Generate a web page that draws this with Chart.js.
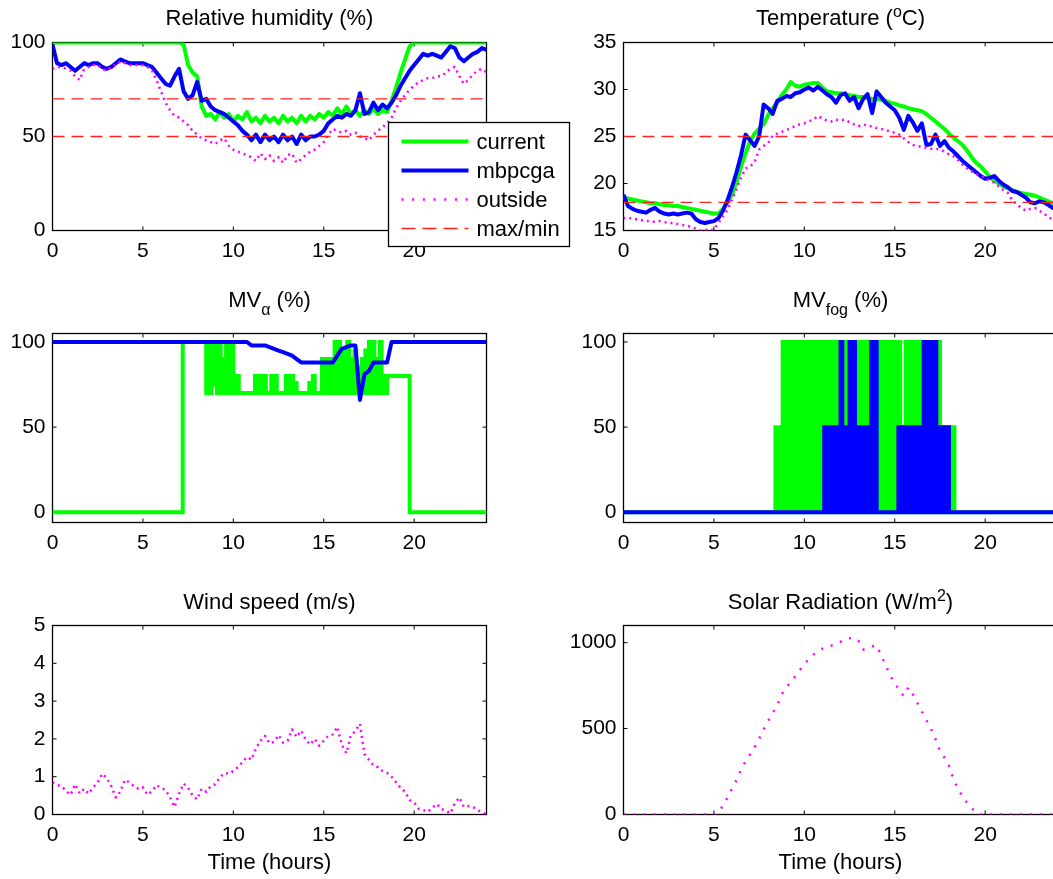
<!DOCTYPE html>
<html>
<head>
<meta charset="utf-8">
<script src="https://cdn.jsdelivr.net/npm/chart.js@4.4.0/dist/chart.umd.min.js"></script>
<style>
html, body { margin: 0; padding: 0; background: #fff; width: 1053px; height: 879px; overflow: hidden; }
canvas { position: absolute; left: 0; top: 0; }
</style>
</head>
<body>
<canvas id="rh" width="1080" height="879"></canvas>
<canvas id="temp" width="1080" height="879"></canvas>
<canvas id="alpha" width="1080" height="879"></canvas>
<canvas id="fog" width="1080" height="879"></canvas>
<canvas id="wind" width="1080" height="879"></canvas>
<canvas id="solar" width="1080" height="879"></canvas>
<script>
// ---------------- DATA ----------------
const seriesNames = ['current', 'mbpcga', 'outside', 'max/min'];
const xTickLabels = [0, 5, 10, 15, 20];
const rhYTicks = [0, 50, 100];
const tempYTicks = [15, 20, 25, 30, 35];
const mvYTicks = [0, 50, 100];
const windYTicks = [0, 1, 2, 3, 4, 5];
const solarYTicks = [0, 500, 1000];
// sampling grid: every 15 minutes over 24 h
const hours = Array.from({length: 97}, (_, i) => i * 0.25);

const rhCurrent = [100,100,100,100,100,100,100,100,100,100,100,100,100,100,100,100,100,100,100,100,100,100,100,100,100,100,100,100,100,
  99,88,84,82,66,61,62,59,63,60,62,58,61,59,63,58,60,57,61,58,60,57,61,58,60,57,61,58,61,59,62,60,63,61,65,62,66,62,64,61,64,62,65,62,64,63,69,76,84,91,98,
  100,100,100,100,100,100,100,100,100,100,100,100,100,100,100,100,100];
const rhMbpcga = [99,89,88,89,87,85,87,89,88,89,89,87,86,87,89,91,90,89,89,89,89,88,87,84,81,78,77,82,86,74,70,72,79,69,70,66,64,63,62,60,58,56,53,51,48,51,47,51,48,50,47,51,48,50,46,51,48,50,50,51,53,57,59,61,60,62,61,64,73,62,63,68,64,67,65,68,72,77,81,85,88,91,94,93,94,93,92,95,98,97,92,90,92,94,95,97,96];
const rhOutside = [86,87,87,86, 85,82,80,86, 87,88,88,86, 85,87,88,90, 89,88,88,88, 88,87,85,80, 74,68,64,61, 60,58,56,53, 51,49,48,47, 46,48,49,45, 43,42,41,40, 39,37,41,38, 40,37,39,36, 40,41,36,38, 40,42,43,45, 47,51,54,53, 52,53,51,52, 50,49,48,51, 53,55,57,60, 65,69,72,75, 77,79,80,81, 81,82,82,84, 86,87,82,78, 80,83,85,86, 84];
const rhLimits = [70, 50];

const tempCurrent = [18.5,18.4,18.3,18.2, 18.1,18.0,17.9,17.9, 17.8,17.7,17.7,17.6, 17.6,17.5,17.4,17.3, 17.2,17.1,17.0,16.9, 16.8,16.8,17.3,18.0, 18.8,20.2,21.8,23.2, 24.5,25.3,25.8,26.3, 27.3,28.0,28.6,29.4, 30.0,30.8,30.4,30.3, 30.5,30.6,30.7,30.7, 30.2,29.8,29.7,29.6, 29.6,29.5,29.4,29.3, 29.2,29.2,29.1,29.0, 29.0,28.9,28.8,28.6, 28.5,28.3,28.2,28.0, 27.9,27.8,27.7,27.4, 27.0,26.6,26.2,25.8, 25.3,24.9,24.5,24.1, 23.5,22.8,22.2,21.8, 21.3,20.7,20.3,20.0, 19.7,19.5,19.3,19.1, 19.0,18.9,18.8,18.7, 18.5,18.3,18.1,17.9, 17.8];
const tempMbpcga = [18.8,17.6,17.3,17.1, 17.0,16.9,17.2,17.4, 17.0,16.8,16.7,16.8, 16.7,16.8,16.9,16.8, 16.2,15.9,15.8,15.9, 16.0,16.3,17.1,18.2, 19.6,21.2,23.0,25.2, 24.6,24.0,25.0,28.4, 28.0,27.4,28.8,29.0, 29.3,29.2,29.6,29.7, 30.0,30.2,29.9,30.3, 29.9,29.5,29.2,28.6, 29.4,29.6,28.8,29.2, 28.0,29.0,29.5,27.5, 29.8,29.2,28.6,28.2, 27.8,27.0,25.7,27.2, 26.5,25.6,26.4,24.1, 24.2,25.2,24.0,24.5, 23.8,23.4,22.9,22.4, 22.0,21.6,21.2,20.8, 20.5,20.6,20.8,20.3, 19.9,19.6,19.2,19.1, 18.8,18.5,18.0,17.9, 18.1,18.0,17.7,17.4, 17.3];
const tempOutside = [16.3,16.4,16.2,16.2, 16.1,16.0,16.0,15.9, 16.0,15.9,15.8,15.8, 15.7,15.6,15.5,15.4, 15.2,15.0,15.1,15.0, 15.1,15.8,16.5,17.2, 18.3,19.4,20.6,21.6, 21.8,22.3,23.6,24.0, 24.3,25.1,25.3,25.5, 25.7,25.9,26.1,26.3, 26.4,26.6,26.8,27.2, 26.9,26.7,26.6,26.8, 26.7,26.8,26.5,26.3, 26.1,26.3,26.1,26.1, 25.9,25.8,25.7,25.5, 25.4,25.2,24.8,24.4, 24.1,24.0,23.9,23.8, 23.7,23.7,23.6,23.4, 23.1,22.9,22.5,22.0, 21.6,21.3,21.0,20.8, 20.6,20.3,20.1,19.7, 19.3,19.0,18.2,17.8, 17.4,17.1,17.3,17.4, 17.1,16.8,16.4,16.2, 15.9];
const tempLimits = [25, 18];

// MV alpha, mbpcga (15-min grid)
const alphaMbpcga = [100,100,100,100,100,100,100,100,100,100,100,100,100,100,100,100,100,100,100,100,100,100,100,100,100,100,100,100,100,100,100,100,100,100,100,100,100,100,100,100,100,100,100,100,
  98,98,98,98,97,96,95,94,93,92,90,88,88,88,88,88,88,88,88,92,96,97,98,98,66,81,83,88,88,88,88,100,
  100,100,100,100,100,100,100,100,100,100,100,100,100,100,100,100,100,100,100,100,100];
// MV alpha, current: sparse start/end points and a 6-minute grid over 8.4-18.4 h
const alphaCurHeadTime = [0, 7.2];
const alphaCurHead = [0, 100];
const alphaCurDenseStart = 8.4;
const alphaCurDense = [100,70,100,70,100,75,100,70,100,70,90,70,100,70,85,100,70,70,80,70,70,70,70,70,70,70,70,70,80,70,70,80,70,80,70,70,70,80,70,80,70,70,70,70,70,80,70,70,80,70,76,70,70,70,70,70,70,70,76,70,80,70,70,70,70,90,70,90,70,90,70,90,100,70,100,70,95,70,90,100,70,90,70,95,70,85,70,90,70,95,70,100,70,100,70,90,70,100,70,80,70];
const alphaCurTailTime = [18.5, 19.75, 24];
const alphaCurTail = [80, 0, 0];

// MV fog (6-minute grid inside the active windows, 0 elsewhere)
const fogCurStart = 8.3;
const fogCurrent = [0,50,0,50,0,100,0,100,0,100,0,100,0,100,0,100,0,100,0,100,0,100,0,100,0,100,0,100,0,100,0,100,0,100,0,100,0,100,0,100,0,100,0,100,0,100,0,100,0,100,0,100,0,100,0,100,0,100,0,100,0,100,0,100,0,100,0,100,0,100,0,50,0,100,0,100,0,100,0,100,0,100,0,100,0,100,0,100,0,100,0,100,0,50,0,50,0,50,0,50,0];
const fogMbStart = 11.0;
const fogMbpcga = [0,50,0,50,0,50,0,50,0,50,100,0,50,0,50,100,0,100,0,50,0,50,0,50,0,50,0,100,0,100,0,0,0,0,0,0,0,0,0,0,0,0,50,0,50,0,50,0,50,0,50,0,50,0,50,0,100,0,100,0,100,0,100,0,50,0,50,0,50,50,0];

const windOutside = [0.85,0.78,0.75,0.62, 0.52,0.8,0.56,0.68, 0.55,0.72,0.85,1.08, 0.96,0.75,0.45,0.6, 0.92,0.85,0.75,0.68, 0.72,0.52,0.62,0.78, 0.7,0.65,0.45,0.2, 0.55,0.82,0.7,0.5, 0.4,0.68,0.6,0.75, 0.8,0.98,1.1,1.08, 1.15,1.25,1.38,1.52, 1.45,1.75,1.95,2.08, 1.88,1.92,2.1,1.9, 1.95,2.25,2.05,2.22, 1.98,1.85,2.0,1.82, 1.95,2.08,2.12,2.32, 1.84,1.62,2.1,2.2, 2.4,1.6,1.45,1.3, 1.25,1.15,1.1,1.0, 0.85,0.7,0.6,0.38, 0.32,0.15,0.12,0.07, 0.18,0.28,0.15,0.1, 0.03,0.3,0.45,0.2, 0.22,0.2,0.12,0.05, 0.01];
const solarOutside = [0,0,0,0,0,0,0,0,0,0,0,0,0,0,0,0,0,0,0,0,0,
  15,50,100,150,200,262,310,350,390,440,495,545,590,636,700,740,770,805,840,875,905,930,950,965,978,983,990,1005,1020,1025,1030,1010,960,968,978,985,925,870,805,770,720,690,740,700,650,600,550,500,440,370,330,285,205,150,105,68,38,12,
  0,0,0,0,0,0,0,0,0,0,0,0,0,0,0,0,0,0];

// ---------------- RENDERING ----------------
const FAM = "'Liberation Sans', Arial, Helvetica, sans-serif";
const CW = 1080, CH = 879, XH = 30, TICK = 4;
const GREEN = '#00ff00', BLUE = '#0000ff', MAGENTA = '#ff00ff', RED = '#ff2020';
Chart.defaults.font.family = FAM;
Chart.defaults.color = '#000';

function grid(start, n) { return Array.from({length: n}, (_, i) => +(start + i * 0.1).toFixed(2)); }
function pts(xs, ys) { return ys.map((y, i) => ({x: xs[i], y: y})); }
function hline(v) { return [{x: 0, y: v}, {x: 24, y: v}]; }

const STY = {
  current: {borderColor: GREEN, borderWidth: 4, order: 4},
  mbpcga: {borderColor: BLUE, borderWidth: 4, order: 3},
  outside: {borderColor: MAGENTA, borderWidth: 2.5, borderDash: [2, 4], order: 2, legendDash: [2, 8.7]},
  limit: {borderColor: RED, borderWidth: 1.3, borderDash: [12, 7], order: 1, legendDash: [14, 7]}
};
function ds(label, data, style, extra) {
  return Object.assign({label: label, data: data, pointRadius: 0, tension: 0, fill: false,
    borderJoinStyle: 'round', borderCapStyle: 'butt'}, style, extra || {});
}

function drawParts(ctx, parts, cx, baseline) {
  let w = 0;
  parts.forEach(p => { ctx.font = (p.s ? 16 : 22) + 'px ' + FAM; p.w = ctx.measureText(p.t).width; w += p.w; });
  let x = cx - w / 2;
  ctx.textAlign = 'left'; ctx.textBaseline = 'alphabetic'; ctx.fillStyle = '#000';
  parts.forEach(p => {
    ctx.font = (p.s ? 16 : 22) + 'px ' + FAM;
    const dy = p.s === 'sup' ? -8 : (p.s === 'sub' ? 8 : 0);
    ctx.fillText(p.t, x, baseline + dy);
    x += p.w;
  });
}

function makePlugin(cfg) {
  return {
    id: 'frame',
    beforeDatasetsDraw(chart) {
      const ctx = chart.ctx, a = chart.chartArea, sx = chart.scales.x, sy = chart.scales.y;
      ctx.save();
      ctx.strokeStyle = '#000';
      ctx.lineWidth = 1.3;
      ctx.strokeRect(a.left, a.top, a.right - a.left, a.bottom - a.top);
      ctx.lineWidth = 1;
      ctx.beginPath();
      sx.ticks.forEach(t => {
        const px = sx.getPixelForValue(t.value);
        ctx.moveTo(px, a.bottom); ctx.lineTo(px, a.bottom - TICK);
        ctx.moveTo(px, a.top); ctx.lineTo(px, a.top + TICK);
      });
      sy.ticks.forEach(t => {
        const py = sy.getPixelForValue(t.value);
        ctx.moveTo(a.left, py); ctx.lineTo(a.left + TICK, py);
        ctx.moveTo(a.right, py); ctx.lineTo(a.right - TICK, py);
      });
      ctx.stroke();
      ctx.restore();
    },
    afterDraw(chart) {
      const ctx = chart.ctx, a = chart.chartArea;
      ctx.save();
      drawParts(ctx, cfg.title, (a.left + a.right) / 2, a.top - cfg.titleGap);
      if (cfg.xTitle) drawParts(ctx, [{t: cfg.xTitle}], (a.left + a.right) / 2, a.bottom + 54);
      if (cfg.legend) {
        const L = cfg.legend;
        ctx.fillStyle = '#fff';
        ctx.fillRect(L.x, L.y, L.w, L.h);
        ctx.strokeStyle = '#000'; ctx.lineWidth = 1.3;
        ctx.strokeRect(L.x, L.y, L.w, L.h);
        const items = chart.data.datasets.filter(d => d.inLegend);
        items.forEach((d, i) => {
          const y = L.rows[i];
          ctx.strokeStyle = d.borderColor; ctx.lineWidth = d.borderWidth;
          ctx.setLineDash(d.legendDash || []);
          ctx.beginPath(); ctx.moveTo(L.lineX0, y); ctx.lineTo(L.lineX1, y); ctx.stroke();
          ctx.setLineDash([]);
          ctx.fillStyle = '#000'; ctx.font = '22px ' + FAM;
          ctx.textAlign = 'left'; ctx.textBaseline = 'alphabetic';
          ctx.fillText(d.label, L.textX, y + 7);
        });
      }
      ctx.restore();
    }
  };
}

function panel(id, area, yr, datasets, cfg) {
  const YW = area.l - 2;
  new Chart(document.getElementById(id), {
    type: 'line',
    data: {datasets: datasets},
    options: {
      responsive: false, maintainAspectRatio: false, animation: false, devicePixelRatio: 1, events: [],
      layout: {padding: {left: area.l - YW, right: CW - area.r, top: area.t, bottom: CH - area.b - XH}},
      plugins: {legend: {display: false}, tooltip: {enabled: false}, title: {display: false}},
      scales: {
        x: {type: 'linear', min: 0, max: 24,
            afterFit: s => { s.height = XH; },
            afterBuildTicks: s => { s.ticks = xTickLabels.map(v => ({value: v})); },
            grid: {display: false, drawTicks: false}, border: {display: false},
            ticks: {padding: 8, maxRotation: 0, autoSkip: false,
                    font: {size: 21}, color: '#000', callback: v => String(v)}},
        y: {type: 'linear', min: yr.min, max: yr.max,
            afterFit: s => { s.width = YW; },
            afterBuildTicks: s => { s.ticks = yr.ticks.map(v => ({value: v})); },
            grid: {display: false, drawTicks: false}, border: {display: false},
            ticks: {padding: 7, autoSkip: false,
                    font: {size: 21}, color: '#000', callback: v => String(v)}}
      }
    },
    plugins: [makePlugin(cfg)]
  });
}

const LEFT = {l: 52.5, r: 486.5}, RIGHT = {l: 623.5, r: 1057.5};
const ROW1 = {t: 42.5, b: 230.5}, ROW2 = {t: 333.5, b: 522.5}, ROW3 = {t: 625.5, b: 814.5};
const area = (c, r) => ({l: c.l, r: c.r, t: r.t, b: r.b});

// Relative humidity
panel('rh', area(LEFT, ROW1), {min: 0, max: 100, ticks: rhYTicks}, [
  ds(seriesNames[0], pts(hours, rhCurrent), STY.current, {inLegend: true}),
  ds(seriesNames[1], pts(hours, rhMbpcga), STY.mbpcga, {inLegend: true}),
  ds(seriesNames[2], pts(hours, rhOutside), STY.outside, {inLegend: true}),
  ds(seriesNames[3], hline(rhLimits[0]), STY.limit, {inLegend: true}),
  ds(seriesNames[3], hline(rhLimits[1]), STY.limit)
], {title: [{t: 'Relative humidity (%)'}], titleGap: 17.7,
    legend: {x: 388.5, y: 122.5, w: 181, h: 124, rows: [141.5, 170.5, 199.5, 228.5], lineX0: 401.5, lineX1: 468.5, textX: 476.5}});

// Temperature
panel('temp', area(RIGHT, ROW1), {min: 15, max: 35, ticks: tempYTicks}, [
  ds(seriesNames[0], pts(hours, tempCurrent), STY.current),
  ds(seriesNames[1], pts(hours, tempMbpcga), STY.mbpcga),
  ds(seriesNames[2], pts(hours, tempOutside), STY.outside),
  ds(seriesNames[3], hline(tempLimits[0]), STY.limit),
  ds(seriesNames[3], hline(tempLimits[1]), STY.limit)
], {title: [{t: 'Temperature ('}, {t: 'o', s: 'sup'}, {t: 'C)'}], titleGap: 17.7});

// MV alpha
const alphaCurTime = alphaCurHeadTime.concat(grid(alphaCurDenseStart, alphaCurDense.length), alphaCurTailTime);
const alphaCurVals = alphaCurHead.concat(alphaCurDense, alphaCurTail);
panel('alpha', area(LEFT, ROW2), {min: -6, max: 105, ticks: mvYTicks}, [
  ds(seriesNames[0], pts(alphaCurTime, alphaCurVals), STY.current, {stepped: true, borderJoinStyle: 'miter'}),
  ds(seriesNames[1], pts(hours, alphaMbpcga), STY.mbpcga)
], {title: [{t: 'MV'}, {t: 'α', s: 'sub'}, {t: ' (%)'}], titleGap: 26.6});

// MV fog
const fogCurTime = [0].concat(grid(fogCurStart, fogCurrent.length), [24]);
const fogCurVals = [0].concat(fogCurrent, [0]);
const fogMbTime = [0].concat(grid(fogMbStart, fogMbpcga.length), [24]);
const fogMbVals = [0].concat(fogMbpcga, [0]);
panel('fog', area(RIGHT, ROW2), {min: -6, max: 105, ticks: mvYTicks}, [
  ds(seriesNames[0], pts(fogCurTime, fogCurVals), STY.current, {stepped: true, borderJoinStyle: 'miter'}),
  ds(seriesNames[1], pts(fogMbTime, fogMbVals), STY.mbpcga, {stepped: true, borderJoinStyle: 'miter'})
], {title: [{t: 'MV'}, {t: 'fog', s: 'sub'}, {t: ' (%)'}], titleGap: 26.6});

// Wind speed
panel('wind', area(LEFT, ROW3), {min: 0, max: 5, ticks: windYTicks}, [
  ds(seriesNames[2], pts(hours, windOutside), STY.outside)
], {title: [{t: 'Wind speed (m/s)'}], titleGap: 17, xTitle: 'Time (hours)'});

// Solar radiation
panel('solar', area(RIGHT, ROW3), {min: 0, max: 1100, ticks: solarYTicks}, [
  ds(seriesNames[2], pts(hours, solarOutside), STY.outside, {borderDash: [2, 8]})
], {title: [{t: 'Solar Radiation (W/m'}, {t: '2', s: 'sup'}, {t: ')'}], titleGap: 17, xTitle: 'Time (hours)'});
</script>
</body>
</html>
